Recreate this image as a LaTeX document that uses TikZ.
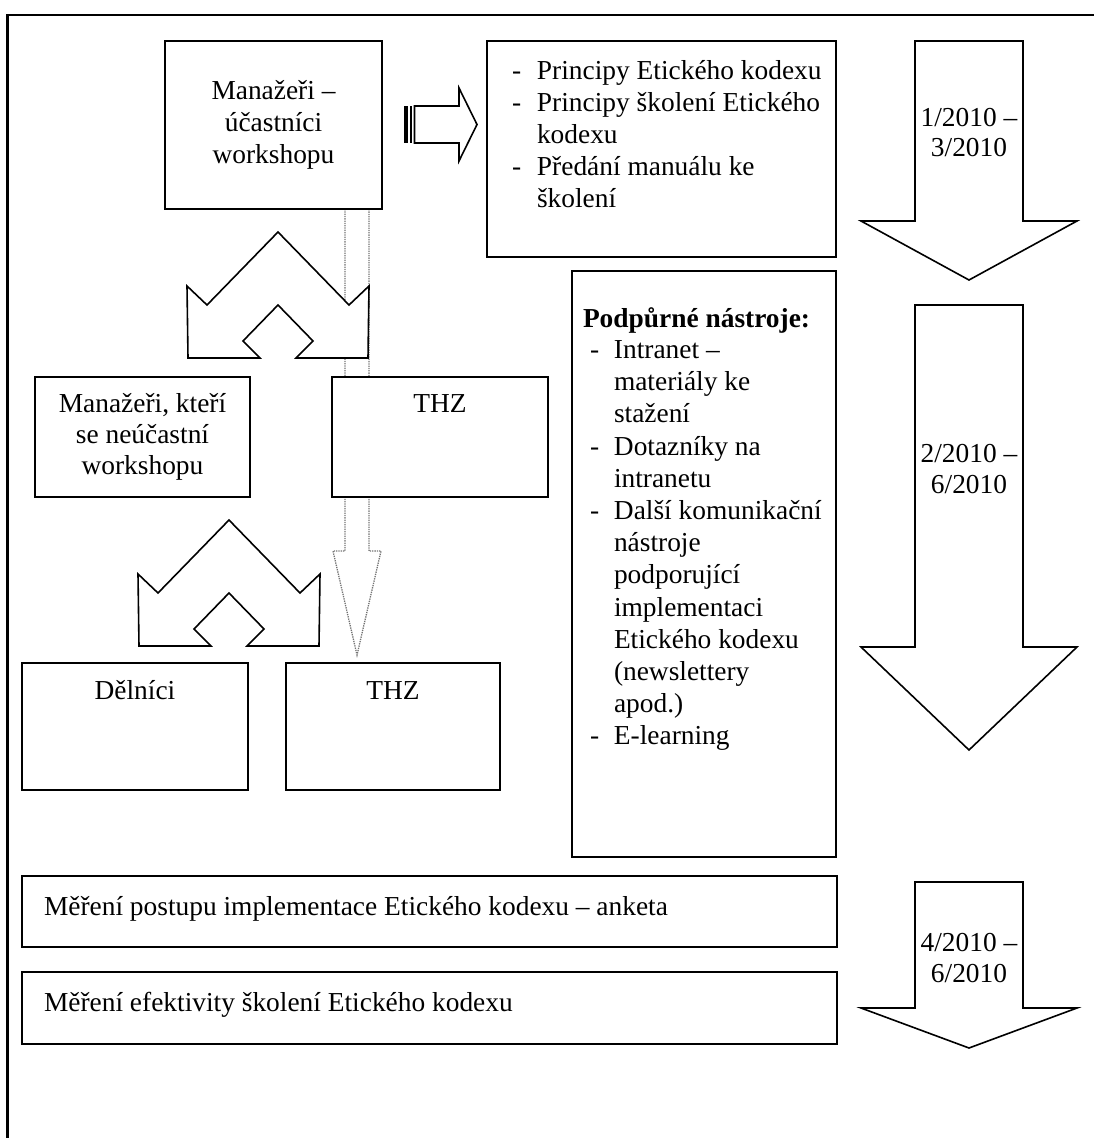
\documentclass[tikz,border=0pt]{standalone}
\usepackage{fontspec}
\setmainfont{Liberation Serif}
\begin{document}
\begin{tikzpicture}[x=1pt,y=-1pt,
  box/.style={draw, line width=1.6pt, fill=white, inner sep=0pt, outer sep=0pt},
  txt/.style={inner sep=0pt, outer sep=0pt, font=\fontsize{27.4}{32.2}\selectfont},
  txtb/.style={inner sep=0pt, outer sep=0pt, font=\fontsize{27.4}{31}\selectfont},
  datetxt/.style={inner sep=0pt, outer sep=0pt, font=\fontsize{27.4}{30.7}\selectfont},
  blockarrow/.style={draw, line width=1.6pt, fill=white, line join=miter},
  dottedarrow/.style={draw=black!55, line width=1.3pt, densely dotted},
  bentarrow/.pic={
    \draw[blockarrow] (0,0) -- (-71,73) -- (-91,54) -- (-90,126) -- (-18,126)
      -- (-35,109) -- (0,73) -- (35,109) -- (18,126) -- (90,126) -- (91,54)
      -- (71,73) -- cycle;
  }
]
\useasboundingbox (0,0) rectangle (1093,1138);

% outer frame
\draw[line width=2.5pt] (1100,15) -- (7.5,15) -- (7.5,1150);

% dotted arrow (behind)
\draw[dottedarrow] (345,209) -- (345,551) -- (333,551) -- (357,655) -- (381,551)
  -- (369,551) -- (369,209);

% bent double arrows
\pic at (278,232) {bentarrow};
\pic at (229,520) {bentarrow};

% boxes
\node[box, anchor=north west, minimum width=217pt, minimum height=168pt] (mgr) at (165,41) {};
\node[box, anchor=north west, minimum width=349pt, minimum height=216pt] (princ) at (487,41) {};
\node[box, anchor=north west, minimum width=264pt, minimum height=586pt] (tools) at (572,271) {};
\node[box, anchor=north west, minimum width=215pt, minimum height=120pt] (mgrno) at (35,377) {};
\node[box, anchor=north west, minimum width=216pt, minimum height=120pt] (thza) at (332,377) {};
\node[box, anchor=north west, minimum width=226pt, minimum height=127pt] (workers) at (22,663) {};
\node[box, anchor=north west, minimum width=214pt, minimum height=127pt] (thzb) at (286,663) {};
\node[box, anchor=north west, minimum width=815pt, minimum height=71pt] (meas1) at (22,876) {};
\node[box, anchor=north west, minimum width=815pt, minimum height=72pt] (meas2) at (22,972) {};

% striped block arrow from mgr to princ
\fill (404,106) rectangle (408,143);
\fill (409.5,106) rectangle (412,143);
\draw[blockarrow] (414.5,106) -- (459,106) -- (459,88) -- (477,124.5) -- (459,161)
  -- (459,143) -- (414.5,143) -- cycle;

% time arrows
\draw[blockarrow] (915,41) -- (1023,41) -- (1023,221) -- (1077,221) -- (969,280)
  -- (861,221) -- (915,221) -- cycle;
\draw[blockarrow] (915,305) -- (1023,305) -- (1023,647) -- (1077,647) -- (969,750)
  -- (861,647) -- (915,647) -- cycle;
\draw[blockarrow] (915,882) -- (1023,882) -- (1023,1008) -- (1077,1008) -- (969,1048)
  -- (861,1008) -- (915,1008) -- cycle;

% texts
\node[txt, anchor=base] (mgrt) at (273.5,99) {\begin{tabular}[t]{@{}c@{}}Manažeři –\\účastníci\\workshopu\end{tabular}};
\node[txt, anchor=base west] (princt) at (512,79) {\begin{tabular}[t]{@{}l@{}l@{}}
\makebox[25pt][l]{-} & Principy Etického kodexu\\
\makebox[25pt][l]{-} & Principy školení Etického\\
 & kodexu\\
\makebox[25pt][l]{-} & Předání manuálu ke\\
 & školení\end{tabular}};
\node[txt, anchor=base west] (toolst) at (583,327) {\textbf{Podpůrné nástroje:}};
\node[txt, anchor=base west] (toolsl) at (590,358.5) {\begin{tabular}[t]{@{}l@{}l@{}}
\makebox[24pt][l]{-} & Intranet –\\
 & materiály ke\\
 & stažení\\
\makebox[24pt][l]{-} & Dotazníky na\\
 & intranetu\\
\makebox[24pt][l]{-} & Další komunikační\\
 & nástroje\\
 & podporující\\
 & implementaci\\
 & Etického kodexu\\
 & (newslettery\\
 & apod.)\\
\makebox[24pt][l]{-} & E-learning\end{tabular}};
\node[txtb, anchor=base] (mgrnot) at (142.5,412) {\begin{tabular}[t]{@{}c@{}}Manažeři, kteří\\se neúčastní\\workshopu\end{tabular}};
\node[txt, anchor=base] (thzat) at (440,412) {THZ};
\node[txt, anchor=base] (workerst) at (135,699) {Dělníci};
\node[txt, anchor=base] (thzbt) at (393,699) {THZ};
\node[txt, anchor=base west] (meas1t) at (44,915) {Měření postupu implementace Etického kodexu – anketa};
\node[txt, anchor=base west] (meas2t) at (44,1011) {Měření efektivity školení Etického kodexu};
\node[datetxt, anchor=base] (d1) at (969,126) {\begin{tabular}[t]{@{}c@{}}1/2010 –\\3/2010\end{tabular}};
\node[datetxt, anchor=base] (d2) at (969,462.7) {\begin{tabular}[t]{@{}c@{}}2/2010 –\\6/2010\end{tabular}};
\node[datetxt, anchor=base] (d3) at (969,951.7) {\begin{tabular}[t]{@{}c@{}}4/2010 –\\6/2010\end{tabular}};
\end{tikzpicture}
\end{document}
